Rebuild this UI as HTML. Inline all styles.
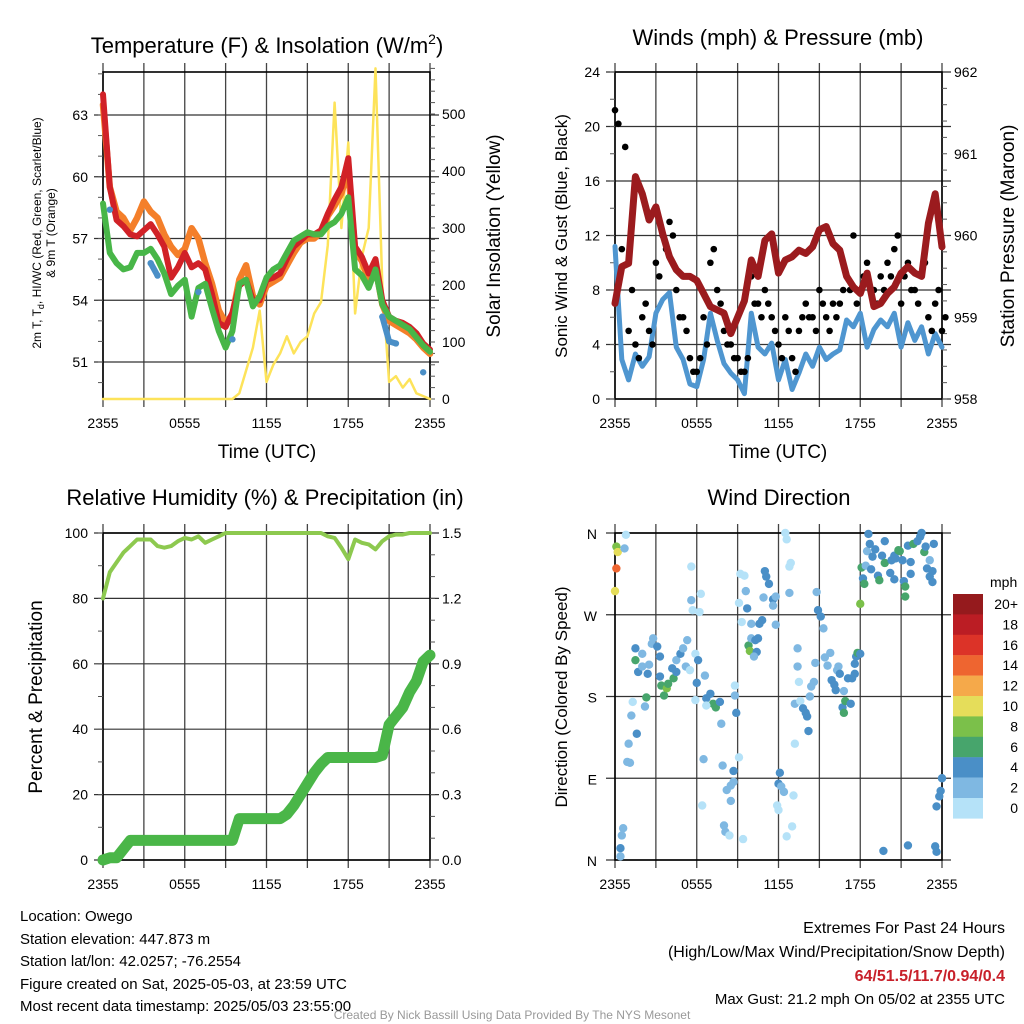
<!DOCTYPE html>
<html><head><meta charset="utf-8"><style>
body{margin:0;background:#fff;}
svg{display:block;font-family:"Liberation Sans",sans-serif;}
</style></head><body>
<svg id="s" width="1024" height="1024" viewBox="0 0 1024 1024" xmlns="http://www.w3.org/2000/svg">
<g id="g1"></g>
<g id="g2"></g>
<g id="g3"></g>
<g id="g4"></g>
<g font-size="22" text-anchor="middle">
<text x="267" y="53">Temperature (F) &amp; Insolation (W/m<tspan font-size="14" dy="-9">2</tspan><tspan dy="9">)</tspan></text>
<text x="778" y="45">Winds (mph) &amp; Pressure (mb)</text>
<text x="265" y="505">Relative Humidity (%) &amp; Precipitation (in)</text>
<text x="779" y="505">Wind Direction</text>
</g>
<g font-size="19" text-anchor="middle">
<text x="267" y="458">Time (UTC)</text>
<text x="778" y="458">Time (UTC)</text>
<text transform="translate(500,236) rotate(-90)">Solar Insolation (Yellow)</text>
<text transform="translate(567,236) rotate(-90)" font-size="17">Sonic Wind &amp; Gust (Blue, Black)</text>
<text transform="translate(1014,236) rotate(-90)">Station Pressure (Maroon)</text>
<text transform="translate(42,697) rotate(-90)">Percent &amp; Precipitation</text>
<text transform="translate(567,697) rotate(-90)" font-size="17">Direction (Colored By Speed)</text>
<text transform="translate(41,233) rotate(-90)" font-size="12">2m T, T<tspan font-size="9" dy="3">d</tspan><tspan dy="-3">, HI/WC (Red, Green, Scarlet/Blue)</tspan></text>
<text transform="translate(55,233) rotate(-90)" font-size="12">&amp; 9m T (Orange)</text>
</g>
<g font-size="15">
<text x="20" y="921">Location: Owego</text>
<text x="20" y="944">Station elevation: 447.873 m</text>
<text x="20" y="966">Station lat/lon: 42.0257; -76.2554</text>
<text x="20" y="989">Figure created on Sat, 2025-05-03, at 23:59 UTC</text>
<text x="20" y="1011">Most recent data timestamp: 2025/05/03 23:55:00</text>
</g>
<g font-size="16" text-anchor="end">
<text x="1005" y="933">Extremes For Past 24 Hours</text>
<text x="1005" y="957">(High/Low/Max Wind/Precipitation/Snow Depth)</text>
<text x="1005" y="981" fill="#c8202a" font-weight="bold">64/51.5/11.7/0.94/0.4</text>
<text x="1005" y="1004" font-size="15">Max Gust: 21.2 mph On 05/02 at 2355 UTC</text>
</g>
<text x="512" y="1019" font-size="12" fill="#999" text-anchor="middle">Created By Nick Bassill Using Data Provided By The NYS Mesonet</text>
</svg>
<script>
const xLabels=["2355","0555","1155","1755","2355"];
const tempRed=[64,59.5,57.9,57.6,57.2,57.1,57.4,57.7,57.2,56.6,55.1,55.6,56.3,55.6,55.8,55.5,54.3,52.9,52.7,53.4,54.7,55,54,54,55,55.1,55.3,56,56.6,56.9,57.2,57.2,57.4,58.2,58.9,59.5,60.9,56.6,56.1,55.3,56,54,53.2,53,52.9,52.7,52.4,51.9,51.6];
const tempOrange=[63.5,59.5,58.3,58,57.4,58,58.8,58.3,58,57.2,56.6,56.2,56.5,57.5,57,55.8,54.8,53.5,52.9,53.3,55,55.7,54.2,53.8,54.7,54.9,55.1,55.7,56.3,56.8,57,57,57.3,58.1,58.6,59.2,60.3,56.4,55.9,55,55.6,53.8,53,52.8,52.6,52.4,52.1,51.7,51.4];
const tempGreen=[58.7,56.3,55.8,55.5,55.6,56.3,56.3,56.5,56,55.3,54.3,54.7,55,53.2,54.6,54.8,53.6,52.5,51.7,52.5,54.8,55,53.7,54.2,55.1,55.5,55.7,56.3,56.9,57.1,57.3,57.2,57.2,57.6,57.8,58.2,59,55.5,55.2,54.6,55.5,53.8,53.2,53,52.8,52.6,52.2,51.8,51.5];
const tempBlue=[null,58.4,null,null,null,null,null,55.8,55.2,null,null,null,null,null,54.4,null,null,null,null,52.1,null,null,null,null,null,null,null,null,null,null,null,null,null,null,null,null,null,null,null,null,null,53.2,52,51.9,null,null,null,50.5,null];
const solar=[0,0,0,0,0,0,0,0,0,0,0,0,0,0,0,0,0,0,0,0,10,50,90,155,30,60,80,110,80,100,110,150,170,270,520,300,450,150,250,300,580,200,30,40,20,35,10,5,0];
const windSpd=[11.2,2.9,1.4,3.3,2.4,3.1,6.3,7.3,7.8,3.8,2.9,1.1,0.9,2.9,6.3,4.3,2.6,1.9,1.4,0.4,6.3,3.8,3.3,4.1,1.4,2.9,0.7,1.9,3.3,2.4,3.8,2.9,3.3,3.6,5.8,5.3,6.3,3.8,5.1,5.8,5.3,6.3,3.8,5.6,4.3,5.3,3.3,4.8,3.8];
const gustA=[21.2,11,5,4,6,5,10,12,13,8,6,3,2,6,10,8,5,4,3,2,9,7,8,6,4,6,3,5,7,6,8,6,7,7,9,12,8,10,8,9,10,11,7,10,8,9,6,7,5];
const gustB=[20.2,18.5,8,3,7,4,9,11,12,6,5,2,3,4,11,7,4,3,2,3,7,6,7,5,3,5,2,6,6,5,7,5,6,8,8,7,9,8,7,8,9,12,9,8,7,10,5,8,6];
const pressure=[959.17,959.62,959.66,960.72,960.51,960.19,960.35,960.02,959.74,959.58,959.5,959.5,959.45,959.29,959.13,959.09,959.05,958.8,959.0,959.2,959.7,959.5,959.94,960.02,959.54,959.7,959.74,959.82,959.78,959.86,960.07,960.11,959.9,959.82,959.5,959.37,959.29,959.54,959.13,959.17,959.29,959.37,959.54,959.62,959.54,959.5,960.15,960.51,959.86];
const rh=[80,88,91,94,96,98,98,98,96,95.5,96,97.5,98.5,98,99,97,98,99,100,100,100,100,100,100,100,100,100,100,100,100,100,100,100,99,98.5,95.5,92,98,97,96.5,95,97.5,99,99.5,99.5,100,100,100,100];
const precip=[0,0.01,0.01,0.05,0.09,0.09,0.09,0.09,0.09,0.09,0.09,0.09,0.09,0.09,0.09,0.09,0.09,0.09,0.09,0.09,0.19,0.19,0.19,0.19,0.19,0.19,0.19,0.21,0.25,0.3,0.35,0.4,0.44,0.47,0.47,0.47,0.47,0.47,0.47,0.47,0.47,0.48,0.62,0.66,0.7,0.77,0.82,0.91,0.94];
const dirHours=[0.1,0.2,0.1,0,0.7,0.8,0.4,0.4,0.5,0.6,0.9,1.1,1,1.2,1.3,1.6,1.5,1.5,1.7,2,2,2.2,2.3,2.4,2.5,2.7,2.8,3.1,3.3,3.3,3.4,3.6,3.8,3.9,4.2,4.3,4.5,4.5,4.8,5,5.3,5.2,5.5,5.6,5.6,5.7,6.2,6.3,5.9,6.1,6,5.9,6.6,6.7,7,7.2,7.4,7.7,6.7,6.5,7.8,7.9,8.2,8.5,8.7,8.5,8.7,6.4,8,8.1,8.4,9.1,8.9,8.8,8.8,9.4,9.1,9.2,9.5,9.3,9.6,9.7,10,9.8,9.9,10,10.3,10.4,10.2,10.5,10.6,10.8,10.9,11,11.1,11.3,11.6,11.6,11.8,11.8,12.1,12,12.2,12.4,11.9,12,13.1,13,12.6,12.5,12.6,12.8,12.9,12.8,13.2,13.4,13.4,13.5,13.6,13.8,14,14.1,14.2,13.2,14.3,14.4,14.6,14.7,14.8,14.9,15.1,15.3,15.4,15.6,15.8,15.9,16.1,16.2,16.3,16.4,16.5,16.8,16.7,16.8,16.9,17.1,17.3,17.4,17.6,17.7,17.8,18,17.6,18,18.1,18.2,18.3,18.4,18.5,18.6,18.7,18.9,19.1,18.8,19.3,19.4,19.6,19.8,19.8,20.2,20.3,20.5,20.5,20.6,20.8,20.9,21.1,21.2,21.3,21.3,21.5,21.7,21.7,21.9,22.2,22.4,22.5,22.7,22.8,22.9,23.1,23.1,23.3,23.3,23.4,19.7,21.5,23.5,23.6,23.6,23.8,23.9,24];
const dirDeg=[345,339,321,296,343,358,13,4,27,35,108,107,128,159,174,139,233,220,207,227,213,169,179,205,215,238,244,235,224,202,192,181,189,194,211,200,207,220,227,233,242,213,209,323,286,275,273,293,227,220,195,176,203,178,183,172,168,174,170,111,150,104,77,82,86,65,98,60,38,31,27,113,162,181,192,23,283,315,313,262,296,277,260,236,230,244,242,229,224,244,260,264,289,318,312,304,287,280,259,290,96,84,81,75,60,55,71,37,26,360,353,323,327,294,172,213,233,196,175,167,162,158,142,128,180,191,196,217,295,275,268,255,223,214,228,198,193,187,209,213,205,186,168,162,175,200,172,200,216,224,228,227,205,282,322,310,304,324,340,359,348,334,342,320,313,308,335,351,327,316,330,335,309,332,341,340,330,307,301,290,346,328,315,348,351,356,360,339,345,321,330,312,306,318,348,10,16,15,9,59,70,76,90];
const dirSpeed=[8,10,13,10,2,0,4,2,2,2,1,2,2,2,0,4,4,6,4,2,2,2,6,4,2,2,2,4,4,4,6,6,8,6,4,6,4,2,4,2,2,2,0,0,2,0,0,0,0,4,4,0,2,4,4,6,6,4,0,2,2,2,2,2,2,2,4,0,2,2,0,0,4,2,0,0,0,0,0,0,2,4,2,6,8,2,4,4,2,4,4,4,2,4,4,4,4,2,2,2,4,4,2,2,0,0,0,0,0,0,0,0,0,2,2,2,2,0,0,4,4,4,4,0,2,2,2,2,2,4,4,2,2,2,2,4,4,4,2,2,4,2,4,6,6,4,4,4,4,4,6,4,4,8,6,4,6,2,2,4,4,4,4,4,4,6,4,4,6,4,4,4,4,4,6,6,4,4,6,6,4,4,4,6,4,4,4,6,4,4,2,4,4,4,4,4,4,4,4,4,4,4,4];
const legendLabels=["20+","18","16","14","12","10","8","6","4","2","0"];
const NS="http://www.w3.org/2000/svg";
function mk(p,t,a){const e=document.createElementNS(NS,t);for(const k in a)e.setAttribute(k,a[k]);p.appendChild(e);return e;}
function spdColor(s){const c=["#b5e2f8","#7fb8e2","#4a8fc7","#47a56c","#7bc04a","#e5dd5a","#f5a94a","#ee6530","#dc3328","#bb1d24","#951a1d"];return c[Math.min(10,Math.floor(s/2))];}
function frame(g,x0,x1,y0,y1,hg){
  for(let h=0;h<=8;h++){const x=x0+(x1-x0)*h/8;const l=mk(g,'line',{x1:x,x2:x,y1:y0-9,y2:y1+8,stroke:'#444','stroke-width':1.3});}
  hg.forEach(y=>{const l=mk(g,'line',{x1:x0-9,x2:x1+9,y1:y,y2:y,stroke:'#333','stroke-width':1.2});});
  for(let i=0;i<5;i++){const t=mk(g,'text',{x:x0+(x1-x0)*i/4,y:y1+29,'font-size':14,'text-anchor':'middle'});t.textContent=xLabels[i];}
  const r=mk(g,'rect',{x:x0,y:y0,width:x1-x0,height:y1-y0,fill:'none',stroke:'#000','stroke-width':1.6});
}
function ticks(g,x,vals,ys,fmt,side,minor){
  minor.forEach(y=>{mk(g,'line',{x1:x,x2:x+(side<0?-5:5),y1:y,y2:y,stroke:'#555'});});
  vals.forEach((v,i)=>{const t=mk(g,'text',{x:side<0?x-15:x+12,y:ys[i]+5,'font-size':14,'text-anchor':side<0?'end':'start'});t.textContent=fmt(v);});
}
function line(g,xs,ys,col,w,name){let d='';let pen=false;for(let i=0;i<xs.length;i++){if(ys[i]==null){pen=false;continue;}d+=(pen?'L':'M')+xs[i].toFixed(1)+','+ys[i].toFixed(1);pen=true;}
  const p=mk(g,'path',{d:d,fill:'none',stroke:col,'stroke-width':w,'stroke-linejoin':'round','stroke-linecap':'round'});}
// Panel 1
(function(){const g=document.getElementById('g1');const x0=103,x1=430,y0=72,y1=399;
 const X=i=>x0+(x1-x0)*i/48;const Y=v=>115+(63-v)*(247/12);const YS=v=>399-v*0.57;
 const tv=[51,54,57,60,63];frame(g,x0,x1,y0,y1,tv.map(Y));
 const mn=[];for(let v=50;v<=65;v++)mn.push(Y(v));ticks(g,x0,tv,tv.map(Y),v=>v,-1,mn);
 const sv=[0,100,200,300,400,500];const mn2=[];for(let v=0;v<=580;v+=20)mn2.push(YS(v));ticks(g,x1,sv,sv.map(YS),v=>v,1,mn2);
 const xs=tempRed.map((v,i)=>X(i));
 line(g,xs,solar.map(YS),'#fde35a',2.5,'solar-line');
 line(g,xs,tempOrange.map(Y),'#f47f2a',6.5,'temp-9m-line');
 line(g,xs,tempRed.map(Y),'#d12127',6,'temp-2m-line');
 line(g,xs,tempGreen.map(Y),'#48b648',6,'dewpoint-line');
 line(g,xs,tempBlue.map(v=>v==null?null:Y(v)),'#4a8fc7',6,'windchill-line');
 tempBlue.forEach((v,i)=>{if(v!=null){const c=mk(g,'circle',{cx:X(i),cy:Y(v),r:3.2,fill:'#4a8fc7'});}});
})();
// Panel 2
(function(){const g=document.getElementById('g2');const x0=615,x1=942,y0=72,y1=399;
 const X=i=>x0+(x1-x0)*i/48;const Y=v=>y1-v*(327/24);const YP=v=>y1-(v-958)*(327/4);
 const wv=[0,4,8,12,16,20,24];frame(g,x0,x1,y0,y1,wv.map(Y));
 const mn=[];for(let v=0;v<=24;v+=2)mn.push(Y(v));ticks(g,x0,wv,wv.map(Y),v=>v,-1,mn);
 const pv=[958,959,960,961,962];const mn2=[];for(let v=958;v<=962;v+=0.2)mn2.push(YP(v));ticks(g,x1,pv,pv.map(YP),v=>v,1,mn2);
 const xs=windSpd.map((v,i)=>X(i));
 line(g,xs,windSpd.map(Y),'#4f96d0',5,'wind-speed-line');
 gustA.forEach((v,i)=>{const c=mk(g,'circle',{cx:X(i),cy:Y(v),r:3.3,fill:'#000'});});
 gustB.forEach((v,i)=>{const c=mk(g,'circle',{cx:X(i)+3.4,cy:Y(v),r:3.3,fill:'#000'});});
 line(g,xs,pressure.map(YP),'#9b1b1e',7,'pressure-line');
})();
// Panel 3
(function(){const g=document.getElementById('g3');const x0=103,x1=430,y0=533,y1=860;
 const X=i=>x0+(x1-x0)*i/48;const Y=v=>y1-v*3.27;const YR=v=>y1-v*(327/1.5);
 const pv=[0,20,40,60,80,100];frame(g,x0,x1,y0,y1,pv.map(Y));
 const mn=[];for(let v=0;v<=100;v+=10)mn.push(Y(v));ticks(g,x0,pv,pv.map(Y),v=>v,-1,mn);
 const rv=[0,0.3,0.6,0.9,1.2,1.5];const mn2=[];for(let v=0;v<=1.5;v+=0.1)mn2.push(YR(v));ticks(g,x1,rv,rv.map(YR),v=>v.toFixed(1),1,mn2);
 const xs=rh.map((v,i)=>X(i));
 line(g,xs,rh.map(Y),'#8dc94f',4,'humidity-line');
 line(g,xs,precip.map(YR),'#4ab648',11,'precip-line');
})();
// Panel 4
(function(){const g=document.getElementById('g4');const x0=615,x1=942,y0=533,y1=860;
 const X=h=>x0+(x1-x0)*h/24;const Y=d=>y1-d*(327/360);
 const dv=[0,90,180,270,360];const dl=["N","E","S","W","N"];frame(g,x0,x1,y0,y1,dv.map(Y));
 dv.forEach((d,i)=>{const t=mk(g,'text',{x:597,y:Y(d)+6,'font-size':14,'text-anchor':'end'});t.textContent=dl[i];});
 dirHours.forEach((h,i)=>{const c=mk(g,'circle',{cx:X(h),cy:Y(dirDeg[i]),r:4.2,fill:spdColor(dirSpeed[i]+1)});});
 const t=mk(g,'text',{x:990,y:587,'font-size':14});t.textContent='mph';
 legendLabels.forEach((l,i)=>{const y=594+i*20.4;const r=mk(g,'rect',{x:953,y:y,width:30,height:20.6,fill:spdColor(20-i*2)});
  const tt=mk(g,'text',{x:1018,y:y+15,'font-size':14,'text-anchor':'end'});tt.textContent=l;});
})();
</script>
</body></html>
